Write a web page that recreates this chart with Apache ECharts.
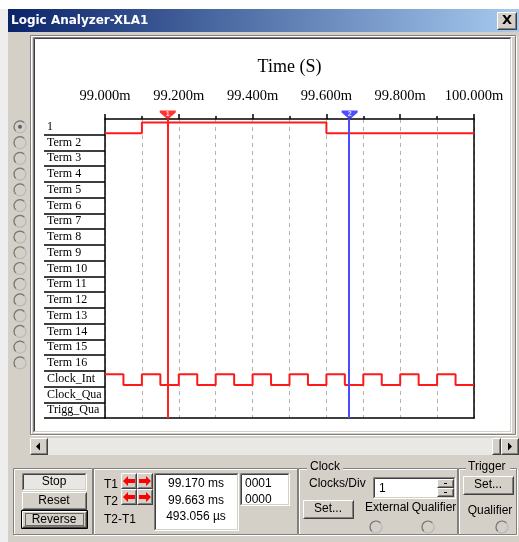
<!DOCTYPE html>
<html>
<head>
<meta charset="utf-8">
<script src="https://cdn.jsdelivr.net/npm/echarts@6/dist/echarts.min.js"></script>
<style>
html, body { margin: 0; padding: 0; background: #fff; }
#main { width: 519px; height: 542px; }
</style>
</head>
<body>
<div id="main"></div>
<script>
// channel names, top to bottom
var rowNames = ['1', 'Term 2', 'Term 3', 'Term 4', 'Term 5', 'Term 6', 'Term 7', 'Term 8',
    'Term 9', 'Term 10', 'Term 11', 'Term 12', 'Term 13', 'Term 14', 'Term 15', 'Term 16',
    'Clock_Int', 'Clock_Qua', 'Trigg_Qua'];

// time window (ms)
var timeMin = 99.0;
var timeMax = 100.0;
var timeStep = 0.2;

// channel "1": transition times and logic state after each
var sig1Times = [99.0, 99.1, 99.6, 100.0];
var sig1States = [0, 1, 0, 0];

// internal clock
var clockTimes = [99.00, 99.05, 99.10, 99.15, 99.20, 99.25, 99.30, 99.35, 99.40, 99.45,
    99.50, 99.55, 99.60, 99.65, 99.70, 99.75, 99.80, 99.85, 99.90, 99.95, 100.0];
var clockStates = [1, 0, 1, 0, 1, 0, 1, 0, 1, 0, 1, 0, 1, 0, 1, 0, 1, 0, 1, 0, 0];

// cursors T1 / T2
var cursorTimes = [99.170, 99.663];
var cursorLabels = ['1', '2'];
var cursorReadout = ['99.170 ms', '99.663 ms', '493.056 \u00b5s'];
var cursorBits = ['0001', '0000'];

var gridLeft = 105, gridTop = 119, gridWidth = 369, gridHeight = 299;
var FACE = '#d4d0c8';
var UI_FONT = '12px "Liberation Sans"';

function rowOf(name) { return rowNames.indexOf(name); }
function stepData(row, times, states) {
    var out = [];
    for (var i = 0; i < times.length; i++) {
        out.push([times[i], row + (states[i] ? 0.22 : 0.9)]);
    }
    return out;
}

// ---- window chrome (decoration only) ----
var chrome = [];
var zc = -60;
function add(el) { el.z = (zc += 0.01); el.silent = true; chrome.push(el); }
function box(x, y, w, h, fill) { add({ type: 'rect', shape: { x: x, y: y, width: w, height: h }, style: { fill: fill } }); }
function ln(x1, y1, x2, y2, c, lw) { add({ type: 'line', shape: { x1: x1, y1: y1, x2: x2, y2: y2 }, style: { stroke: c, lineWidth: lw || 1 } }); }
function edge(x, y, w, h, tl, br) {
    var l = x + 0.5, t = y + 0.5, r = x + w - 0.5, b = y + h - 0.5;
    ln(l, t, r, t, tl); ln(l, t, l, b, tl);
    ln(l, b, r + 0.5, b, br); ln(r, t, r, b, br);
}
function raised(x, y, w, h) { box(x, y, w, h, FACE); edge(x, y, w, h, '#ffffff', '#404040'); edge(x + 1, y + 1, w - 2, h - 2, FACE, '#808080'); }
function sunken(x, y, w, h, fill) { box(x, y, w, h, fill); edge(x, y, w, h, '#808080', '#ffffff'); edge(x + 1, y + 1, w - 2, h - 2, '#404040', FACE); }
function txt(x, y, s, font, align, color) {
    add({ type: 'text', x: x, y: y, style: { text: s, font: font || UI_FONT, fill: color || '#000', align: align || 'left', verticalAlign: 'middle' } });
}
function outline(x, y, w, h, c, dash) {
    add({ type: 'rect', shape: { x: x + 0.5, y: y + 0.5, width: w - 1, height: h - 1 }, style: { fill: 'none', stroke: c, lineWidth: 1, lineDash: dash || null } });
}
function etched(x, y, w, h) { outline(x + 1, y + 1, w, h, '#ffffff'); outline(x, y, w, h, '#808080'); }
function radio(cx, cy, checked) {
    add({ type: 'circle', shape: { cx: cx, cy: cy, r: 6 }, style: { fill: FACE, stroke: '#b8b8b8', lineWidth: 1.2 } });
    add({ type: 'arc', shape: { cx: cx, cy: cy, r: 6, startAngle: Math.PI * 0.75, endAngle: Math.PI * 1.75 }, style: { fill: 'none', stroke: '#787878', lineWidth: 1.2 } });
    if (checked) add({ type: 'circle', shape: { cx: cx, cy: cy, r: 2 }, style: { fill: '#606060' } });
}
function arrow(cx, cy, dir) {
    var d = dir;
    add({ type: 'polygon', shape: { points: [[cx - 6 * d, cy], [cx - 1 * d, cy - 5], [cx - 1 * d, cy - 2], [cx + 6 * d, cy - 2],
        [cx + 6 * d, cy + 2], [cx - 1 * d, cy + 2], [cx - 1 * d, cy + 5]] }, style: { fill: '#ff0000' } });
}

// page + window body
box(0, 0, 519, 542, '#ffffff');
box(0, 9, 8, 533, '#eeeeee');
box(8, 9, 511, 533, FACE);
// title bar
add({ type: 'rect', shape: { x: 8, y: 9, width: 511, height: 23 }, style: {
    fill: new echarts.graphic.LinearGradient(0, 0, 1, 0, [{ offset: 0, color: '#0a246a' }, { offset: 1, color: '#a6caf0' }]) } });
txt(11, 21, 'Logic Analyzer-XLA1', 'bold 12px "DejaVu Sans"', 'left', '#ffffff');
raised(497, 12, 20, 18);
txt(507, 21, 'X', 'bold 13px "DejaVu Sans"', 'center');

// chart panel
etched(30, 35, 486, 400);
sunken(33, 37, 479, 396, '#ffffff');

// left radio column, one per term row
for (var r = 0; r < 16; r++) {
    radio(20, gridTop + (r + 0.5) * gridHeight / rowNames.length, r === 0);
}

// scrollbar
box(30, 438, 489, 17, '#eae8e4');
raised(30, 438, 18, 17);
add({ type: 'polygon', shape: { points: [[36, 446.5], [40, 442.5], [40, 450.5]] }, style: { fill: '#000' } });
raised(492, 438, 9, 17);
raised(501, 438, 18, 17);
add({ type: 'polygon', shape: { points: [[512, 446.5], [508, 442.5], [508, 450.5]] }, style: { fill: '#000' } });

// bottom groups
etched(13, 468, 80, 67);
etched(93, 468, 205, 67);
etched(298, 468, 160, 67);
etched(458, 468, 59, 67);
box(307, 460, 36, 14, FACE);
txt(310, 467, 'Clock');
box(466, 460, 44, 14, FACE);
txt(468, 467, 'Trigger');

// Stop / Reset / Reverse
sunken(22, 473, 65, 18, '#e9e7e3');
txt(54, 482, 'Stop', UI_FONT, 'center');
raised(22, 492, 65, 18);
txt(54, 501, 'Reset', UI_FONT, 'center');
outline(21, 510, 67, 19, '#000');
raised(22, 511, 65, 17);
outline(25, 513, 59, 13, '#000', [1, 1]);
txt(54, 520, 'Reverse', UI_FONT, 'center');

// cursors readout
txt(104, 485, 'T1');
txt(104, 502, 'T2');
txt(104, 520, 'T2-T1');
raised(121, 473, 16, 16); raised(137, 473, 16, 16);
raised(121, 489, 16, 16); raised(137, 489, 16, 16);
arrow(129, 481, 1); arrow(145, 481, -1);
arrow(129, 497, 1); arrow(145, 497, -1);
sunken(154, 473, 85, 58, '#ffffff');
txt(196, 484, cursorReadout[0], UI_FONT, 'center');
txt(196, 501, cursorReadout[1], UI_FONT, 'center');
txt(196, 517, cursorReadout[2], UI_FONT, 'center');
sunken(240, 473, 50, 33, '#ffffff');
txt(245, 484, cursorBits[0]);
txt(245, 500, cursorBits[1]);

// clock group
txt(309, 484, 'Clocks/Div');
sunken(373, 477, 83, 22, '#ffffff');
txt(379, 489, '1');
raised(437, 479, 17, 9);
raised(437, 488, 17, 9);
ln(444, 483.5, 447, 483.5, '#000');
ln(444, 492.5, 447, 492.5, '#000');
raised(303, 500, 51, 19);
txt(328, 509, 'Set...', UI_FONT, 'center');
txt(387, 508, 'External', UI_FONT, 'center');
txt(434, 508, 'Qualifier', UI_FONT, 'center');
radio(376, 527, false);
radio(428, 527, false);

// trigger group
raised(463, 476, 51, 19);
txt(488, 485, 'Set...', UI_FONT, 'center');
txt(490, 511, 'Qualifier', UI_FONT, 'center');
radio(502, 527, false);

var chartDom = document.getElementById('main');
var chart = echarts.init(chartDom);

var cursorMarks = [];
var cursorColors = ['#ff0000', '#2020ff'];
for (var c = 0; c < cursorTimes.length; c++) {
    cursorMarks.push({ value: [cursorTimes[c], -0.26], name: cursorLabels[c], itemStyle: { color: cursorColors[c] } });
}

var option = {
    animation: false,
    graphic: chrome,
    grid: { left: gridLeft, top: gridTop, width: gridWidth, height: gridHeight },
    xAxis: [{
        type: 'value',
        position: 'top',
        min: timeMin,
        max: timeMax,
        interval: timeStep,
        name: 'Time (S)',
        nameLocation: 'middle',
        nameGap: 43,
        nameTextStyle: { fontFamily: 'Liberation Serif', fontSize: 18, color: '#000' },
        axisLine: { show: true, lineStyle: { color: '#000', width: 1.5 } },
        axisTick: { show: true, length: 5, lineStyle: { color: '#000', width: 1.5 } },
        minorTick: { show: true, splitNumber: 2, length: 3, lineStyle: { color: '#000', width: 1.5 } },
        axisLabel: {
            margin: 15,
            fontFamily: 'Liberation Serif',
            fontSize: 14.5,
            color: '#000',
            formatter: function (v) { return v.toFixed(3) + 'm'; }
        },
        splitLine: { show: true, lineStyle: { color: '#b4b4b4', type: [4, 4], width: 1 } },
        minorSplitLine: { show: true, lineStyle: { color: '#b4b4b4', type: [4, 4], width: 1 } }
    }, {
        type: 'value',
        position: 'bottom',
        min: timeMin,
        max: timeMax,
        axisLine: { show: true, lineStyle: { color: '#000', width: 1.5 } },
        axisTick: { show: false },
        axisLabel: { show: false },
        splitLine: { show: false }
    }],
    yAxis: [{
        type: 'category',
        data: rowNames,
        inverse: true,
        position: 'left',
        axisLine: { show: true, lineStyle: { color: '#000', width: 1.5 } },
        axisTick: {
            show: true, length: 61,
            interval: function (index) { return index !== 0; },
            lineStyle: { color: '#000', width: 1.5 }
        },
        axisLabel: { align: 'left', margin: 58, fontFamily: 'Liberation Serif', fontSize: 12, color: '#000' },
        splitLine: { show: false }
    }, {
        type: 'value',
        min: 0,
        max: rowNames.length,
        inverse: true,
        position: 'right',
        axisLine: { show: true, lineStyle: { color: '#000', width: 1.5 } },
        axisTick: { show: false },
        axisLabel: { show: false },
        splitLine: { show: false }
    }],
    series: [{
        name: '1',
        type: 'line',
        xAxisIndex: 0,
        yAxisIndex: 1,
        step: 'end',
        showSymbol: false,
        lineStyle: { color: '#ff1a1a', width: 2 },
        data: stepData(rowOf('1'), sig1Times, sig1States),
        markLine: {
            silent: true,
            symbol: 'none',
            label: { show: false },
            data: [
                { xAxis: cursorTimes[0], lineStyle: { color: '#ff2020', width: 2, type: 'solid' } },
                { xAxis: cursorTimes[1], lineStyle: { color: '#4a4aff', width: 2, type: 'solid' } }
            ]
        }
    }, {
        name: 'Clock_Int',
        type: 'line',
        xAxisIndex: 0,
        yAxisIndex: 1,
        step: 'end',
        showSymbol: false,
        lineStyle: { color: '#ff1a1a', width: 2 },
        data: stepData(rowOf('Clock_Int'), clockTimes, clockStates)
    }, {
        name: 'cursors',
        type: 'scatter',
        xAxisIndex: 0,
        yAxisIndex: 1,
        clip: false,
        silent: true,
        z: 5,
        symbol: 'path://M0,0 L16,0 L16,2 L8,9 L0,2 Z',
        symbolSize: [16, 9],
        label: {
            show: true, position: 'inside', color: '#fff', fontSize: 7, fontWeight: 'bold', offset: [0, -1],
            formatter: function (p) { return p.name; }
        },
        data: cursorMarks
    }]
};

chart.setOption(option);
</script>
</body>
</html>
